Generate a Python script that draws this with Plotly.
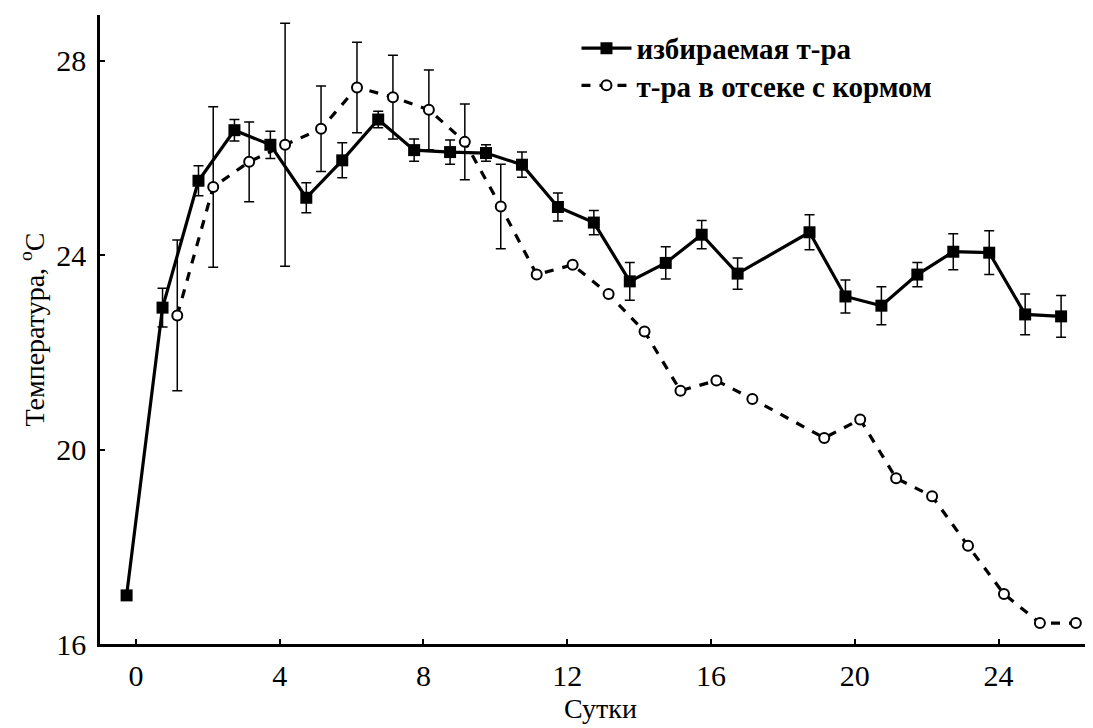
import plotly.graph_objects as go

# ---- data ----
days_sel = [0, 1, 2, 3, 4, 5, 6, 7, 8, 9, 10, 11, 12, 13, 14, 15, 16, 17,
            19, 20, 21, 22, 23, 24, 25, 26]
temp_sel = [17.0, 22.92, 25.53, 26.57, 26.27, 25.18, 25.95, 26.79, 26.16, 26.12,
            26.10, 25.86, 24.99, 24.67, 23.46, 23.84, 24.42, 23.62,
            24.47, 23.15, 22.96, 23.60, 24.07, 24.05, 22.78, 22.74]
err_sel = [None, 0.40, 0.31, 0.22, 0.28, 0.31, 0.36, 0.17, 0.23, 0.25,
           0.17, 0.26, 0.29, 0.25, 0.39, 0.33, 0.29, 0.32,
           0.36, 0.34, 0.39, 0.25, 0.37, 0.45, 0.42, 0.43]

days_feed = [1, 2, 3, 4, 5, 6, 7, 8, 9, 10, 11, 12, 13, 14, 15, 16, 17,
             19, 20, 21, 22, 23, 24, 25, 26]
temp_feed = [22.76, 25.40, 25.92, 26.27, 26.60, 27.45, 27.25, 26.99, 26.33, 25.00,
             23.60, 23.80, 23.20, 22.43, 21.21, 21.42, 21.04,
             20.24, 20.62, 19.41, 19.04, 18.02, 17.03, 16.43, 16.43]
err_feed = [1.55, 1.65, 0.82, 2.50, 0.88, 0.93, 0.86, 0.82, 0.78, 0.87,
            None, None, None, None, None, None, None,
            None, None, None, None, None, None, None, None]

x_ticks = [0, 4, 8, 12, 16, 20, 24]
y_ticks = [16, 20, 24, 28]

name_sel = "избираемая т-ра"
name_feed = "т-ра в отсеке с кормом"
x_title = "Сутки"
y_title = "Температура, <sup>o</sup>С"

# horizontal dodge of the two series around each day (as in the original)
dodge_sel = -0.26
dodge_feed = 0.15

FONT = "Liberation Serif, Times New Roman, serif"

fig = go.Figure()

fig.add_trace(go.Scatter(
    x=[d + dodge_sel for d in days_sel], y=temp_sel,
    name=name_sel, mode="lines+markers", legend="legend",
    line=dict(color="black", width=3.2),
    marker=dict(symbol="square", size=12, color="black"),
    error_y=dict(type="data", array=err_sel, visible=True,
                 color="black", thickness=1.5, width=5),
))

fig.add_trace(go.Scatter(
    x=[d + dodge_feed for d in days_feed], y=temp_feed,
    name=name_feed, mode="lines+markers", legend="legend2",
    line=dict(color="black", width=3.2, dash="9px,9px"),
    marker=dict(symbol="circle", size=10, color="white",
                line=dict(color="black", width=2)),
    error_y=dict(type="data", array=err_feed, visible=True,
                 color="black", thickness=1.5, width=5),
))

legend_common = dict(xanchor="left", yanchor="middle",
                     bgcolor="rgba(0,0,0,0)", borderwidth=0,
                     font=dict(family=FONT, size=29, color="black", weight="bold"),
                     itemwidth=50)

fig.update_layout(
    width=1093, height=728,
    margin=dict(l=92, r=0, t=7, b=92),
    paper_bgcolor="white", plot_bgcolor="white",
    font=dict(family=FONT, color="black", size=28),
    showlegend=True,
    legend=dict(x=0.476, y=0.947, **legend_common),
    legend2=dict(x=0.476, y=0.888, **legend_common),
)

fig.update_xaxes(
    range=[-1, 26.85], tickmode="array", tickvals=x_ticks,
    showgrid=False, zeroline=False,
    showline=True, linecolor="black", linewidth=2.5,
    ticks="inside", ticklen=5, tickwidth=1.5, tickcolor="black",
    tickfont=dict(family=FONT, size=30, color="black"),
    ticklabelstandoff=3,
    title=dict(text=x_title, font=dict(family=FONT, size=28, color="black"), standoff=8),
)

fig.update_yaxes(
    range=[16, 28.94], tickmode="array", tickvals=y_ticks,
    showgrid=False, zeroline=False,
    showline=True, linecolor="black", linewidth=2.5,
    ticks="inside", ticklen=5, tickwidth=1.5, tickcolor="black",
    tickfont=dict(family=FONT, size=30, color="black"),
    ticklabelstandoff=5,
    title=dict(text=y_title, font=dict(family=FONT, size=28, color="black"), standoff=4),
)

fig.write_html("out.html")
